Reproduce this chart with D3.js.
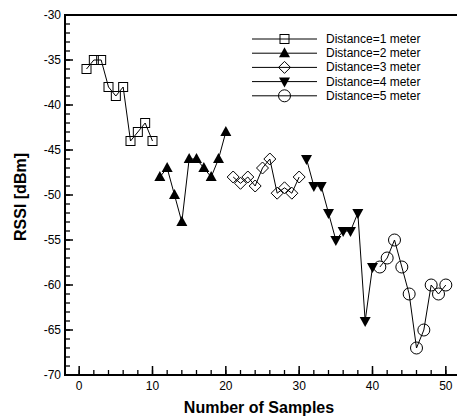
<!DOCTYPE html>
<html>
<head>
<meta charset="utf-8">
<script src="https://cdn.jsdelivr.net/npm/d3@7"></script>
<style>
  body { margin: 0; background: #fff; }
  svg { font-family: Arial, "Liberation Sans", sans-serif; }
</style>
</head>
<body>
<svg id="chart" width="457" height="416"></svg>
<script>
// values
const samples1 = [1, 2, 3, 4, 5, 6, 7, 8, 9, 10];
const rssi1 = [-36, -35, -35, -38, -39, -38, -44, -43, -42, -44];
const samples2 = [11, 12, 13, 14, 15, 16, 17, 18, 19, 20];
const rssi2 = [-48, -47, -50, -53, -46, -46, -47, -48, -46, -43];
const samples3 = [21, 22, 23, 24, 25, 26, 27, 28, 29, 30];
const rssi3 = [-48, -48.7, -48, -49, -47, -46, -49.8, -49.2, -49.8, -48];
const samples4 = [31, 32, 33, 34, 35, 36, 37, 38, 39, 40];
const rssi4 = [-46, -49, -49, -52, -55, -54, -54, -52, -64, -58];
const samples5 = [41, 42, 43, 44, 45, 46, 47, 48, 49, 50];
const rssi5 = [-58, -57, -55, -58, -61, -67, -65, -60, -61, -60];
const seriesNames = ['Distance=1 meter', 'Distance=2 meter', 'Distance=3 meter', 'Distance=4 meter', 'Distance=5 meter'];
const xTicks = [0, 10, 20, 30, 40, 50];
const yTicks = [-70, -65, -60, -55, -50, -45, -40, -35, -30];

const svg = d3.select('#chart');
const x = d3.scaleLinear().domain([-2, 52]).range([64.5, 460.5]);
const y = d3.scaleLinear().domain([-70, -30]).range([375, 15]);

const series = [
  { xs: samples1, ys: rssi1, shape: 'square' },
  { xs: samples2, ys: rssi2, shape: 'up' },
  { xs: samples3, ys: rssi3, shape: 'diamond' },
  { xs: samples4, ys: rssi4, shape: 'down' },
  { xs: samples5, ys: rssi5, shape: 'circle' }
];

const drawMarker = (g, shape, cx, cy) => {
  if (shape === 'square') {
    g.append('rect').attr('x', cx - 4.5).attr('y', cy - 4.5).attr('width', 9).attr('height', 9)
      .attr('fill', 'none').attr('stroke', '#000').attr('stroke-width', 1);
  } else if (shape === 'circle') {
    g.append('circle').attr('cx', cx).attr('cy', cy).attr('r', 6)
      .attr('fill', 'none').attr('stroke', '#000').attr('stroke-width', 1);
  } else if (shape === 'diamond') {
    g.append('path').attr('d', `M${cx},${cy - 6}L${cx + 6},${cy}L${cx},${cy + 6}L${cx - 6},${cy}Z`)
      .attr('fill', 'none').attr('stroke', '#000').attr('stroke-width', 1);
  } else if (shape === 'up') {
    g.append('path').attr('d', `M${cx},${cy - 6}L${cx + 5.5},${cy + 4}L${cx - 5.5},${cy + 4}Z`)
      .attr('fill', '#000');
  } else {
    g.append('path').attr('d', `M${cx},${cy + 6}L${cx + 5.5},${cy - 4}L${cx - 5.5},${cy - 4}Z`)
      .attr('fill', '#000');
  }
};

// axes
const xMinor = d3.range(0, 52, 2);
const yMinor = d3.range(-70, -29, 1);

const xAxis = svg.append('g');
xAxis.selectAll('.minor').data(xMinor).enter().append('line')
  .attr('x1', d => x(d)).attr('x2', d => x(d)).attr('y1', 375).attr('y2', 370)
  .attr('stroke', '#000').attr('stroke-width', 1.3);
xAxis.selectAll('.major').data(xTicks).enter().append('line')
  .attr('x1', d => x(d)).attr('x2', d => x(d)).attr('y1', 375).attr('y2', 366)
  .attr('stroke', '#000').attr('stroke-width', 1.5);
xAxis.selectAll('text').data(xTicks).enter().append('text')
  .attr('x', d => x(d)).attr('y', 390).attr('text-anchor', 'middle')
  .attr('font-size', 12).text(d => d);

const yAxis = svg.append('g');
yAxis.selectAll('.minor').data(yMinor).enter().append('line')
  .attr('x1', 65).attr('x2', 70).attr('y1', d => y(d)).attr('y2', d => y(d))
  .attr('stroke', '#000').attr('stroke-width', 1.3);
yAxis.selectAll('.major').data(yTicks).enter().append('line')
  .attr('x1', 65).attr('x2', 73).attr('y1', d => y(d)).attr('y2', d => y(d))
  .attr('stroke', '#000').attr('stroke-width', 1.5);
yAxis.selectAll('text').data(yTicks).enter().append('text')
  .attr('x', 61).attr('y', d => y(d) + 4).attr('text-anchor', 'end')
  .attr('font-size', 12).text(d => d);

// frame
svg.append('line').attr('x1', 65).attr('x2', 65).attr('y1', 14).attr('y2', 376)
  .attr('stroke', '#000').attr('stroke-width', 2);
svg.append('line').attr('x1', 64).attr('x2', 461).attr('y1', 375).attr('y2', 375)
  .attr('stroke', '#000').attr('stroke-width', 2);
svg.append('line').attr('x1', 64).attr('x2', 461).attr('y1', 15).attr('y2', 15)
  .attr('stroke', '#000').attr('stroke-width', 2);
svg.append('line').attr('x1', 460.5).attr('x2', 460.5).attr('y1', 14).attr('y2', 376)
  .attr('stroke', '#000').attr('stroke-width', 2);

// series
const line = d3.line().x(d => x(d[0])).y(d => y(d[1]));
series.forEach(s => {
  const pts = s.xs.map((v, i) => [v, s.ys[i]]);
  const g = svg.append('g');
  g.append('path').attr('d', line(pts)).attr('fill', 'none')
    .attr('stroke', '#000').attr('stroke-width', 1);
  pts.forEach(p => drawMarker(g, s.shape, x(p[0]), y(p[1])));
});

// legend
const legend = svg.append('g');
seriesNames.forEach((name, i) => {
  const ly = 39 + i * 14.2;
  legend.append('line').attr('x1', 252).attr('x2', 317).attr('y1', ly).attr('y2', ly)
    .attr('stroke', '#000').attr('stroke-width', 1);
  drawMarker(legend, series[i].shape, 284.5, ly);
  legend.append('text').attr('x', 326).attr('y', ly + 4).attr('font-size', 12).text(name);
});

// titles
svg.append('text').attr('x', 259).attr('y', 413).attr('text-anchor', 'middle')
  .attr('font-size', 16).attr('font-weight', 'bold').text('Number of Samples');
svg.append('text').attr('transform', 'translate(26,197) rotate(-90)').attr('text-anchor', 'middle')
  .attr('font-size', 16).attr('font-weight', 'bold').text('RSSI [dBm]');
</script>
</body>
</html>
